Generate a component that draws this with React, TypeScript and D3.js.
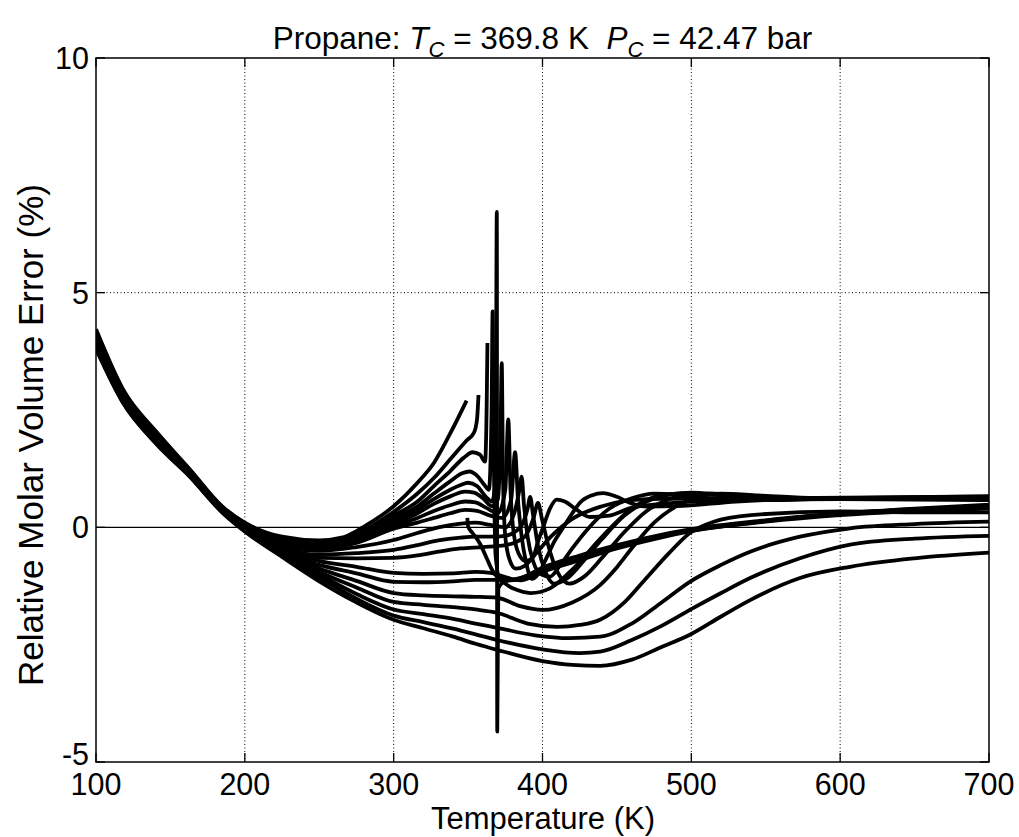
import React from "react";
import * as d3 from "d3";

type P = [number, number];

const X_TICKS = [100, 200, 300, 400, 500, 600, 700];
const Y_TICKS = [-5, 0, 5, 10];
const X_GRID = [200, 300, 400, 500, 600];
const Y_GRID = [5];

const U1: P[] = [[100,4.22],[118,2.95],[141,2.02],[163,1.24],[185,0.44],[200,0.10],[225,-0.20],[250,-0.28],[265,-0.22],[275,-0.08],[282,0.05],[300,0.45],[316,0.95],[327,1.37],[338,2.0],[349,2.7]];
const U2: P[] = [[100,4.20],[118,2.93],[141,2.00],[163,1.22],[185,0.43],[200,0.09],[225,-0.23],[250,-0.31],[275,-0.14],[300,0.33],[316,0.72],[327,1.05],[338,1.45],[349,1.85],[354,2.02],[356,2.3],[357,2.82]];
const U3: P[] = [[100,4.17],[118,2.91],[141,1.98],[163,1.21],[185,0.42],[200,0.08],[225,-0.25],[250,-0.33],[275,-0.18],[300,0.25],[316,0.55],[327,0.88],[338,1.2],[347,1.48],[353,1.6],[358,1.55],[361.4,1.4],[362.5,2.6],[363,3.93]];
const H1: P[] = [[100,4.14],[118,2.89],[141,1.97],[163,1.20],[185,0.42],[200,0.07],[225,-0.28],[250,-0.35],[275,-0.21],[300,0.18],[316,0.45],[327,0.72],[338,0.98],[346,1.15],[351,1.19],[356,1.1],[361,0.9],[364,0.8],[365.8,2.5],[366.5,4.6],[367.3,1.5],[368.5,-0.6],[371,-1.05],[380,-1.12],[390,-1.03],[400,-0.88],[425,-0.62],[450,-0.4],[475,-0.21],[500,-0.06],[550,0.14],[600,0.29],[650,0.39],[700,0.46]];
const C0: P[] = [[100,4.11],[118,2.87],[141,1.95],[163,1.19],[185,0.41],[200,0.05],[225,-0.30],[250,-0.37],[275,-0.24],[300,0.12],[316,0.38],[327,0.6],[338,0.8],[345,0.9],[350,0.95],[356,0.88],[362,0.65],[366,0.55],[368.5,1.0],[369.3,6.72],[369.6,-4.35],[370.3,-1.3],[375,-1.15],[385,-1.1],[400,-0.9],[425,-0.63],[450,-0.41],[475,-0.22],[500,-0.07],[550,0.13],[600,0.29],[650,0.4],[700,0.48]];
const H3: P[] = [[100,4.08],[118,2.85],[141,1.94],[163,1.19],[185,0.40],[200,0.04],[225,-0.33],[250,-0.39],[275,-0.27],[300,0.07],[316,0.3],[327,0.5],[338,0.66],[348,0.76],[354,0.74],[360,0.62],[366,0.45],[370,0.6],[371.8,2.0],[372.6,3.5],[373.5,1.0],[375,-0.2],[378,-0.7],[382,-0.88],[388,-0.82],[395,-0.58],[405,-0.22],[420,0.18],[440,0.45],[470,0.6],[520,0.62],[600,0.62],[700,0.62]];
const H4: P[] = [[100,4.05],[118,2.83],[141,1.92],[163,1.18],[185,0.39],[200,0.03],[225,-0.35],[250,-0.41],[275,-0.30],[300,0.02],[316,0.2],[327,0.35],[338,0.47],[348,0.55],[355,0.53],[362,0.42],[370,0.3],[375,0.8],[377,2.3],[378.5,0.8],[381,-0.2],[385,-0.62],[389,-0.72],[393.7,-0.63],[397,-0.3],[400.4,0.0],[405,0.4],[409.6,0.59],[415,0.55],[422,0.4],[432,0.22],[445,0.25],[459,0.41],[480,0.5],[520,0.57],[600,0.6],[700,0.6]];
const H5: P[] = [[100,4.02],[118,2.81],[141,1.91],[163,1.17],[185,0.39],[200,0.02],[225,-0.38],[250,-0.43],[275,-0.33],[300,-0.03],[316,0.1],[327,0.2],[338,0.3],[348,0.37],[356,0.35],[365,0.25],[373,0.2],[379,0.6],[381.6,1.6],[383.5,0.6],[386,-0.2],[389,-0.75],[393,-1.1],[397,-1.0],[403,-0.63],[408,-0.3],[414,0.0],[420,0.3],[425,0.52],[433,0.68],[440.7,0.73],[450,0.65],[459,0.52],[470,0.44],[490,0.45],[530,0.55],[600,0.62],[700,0.64]];
const V1: P[] = [[349.5,0.2],[350,0.02],[353,-0.12],[358,-0.35],[362,-0.62],[366,-0.9],[370,-1.06],[376,-1.12],[385,-1.08],[400,-0.86],[425,-0.6],[450,-0.38],[475,-0.19],[500,-0.04],[550,0.15],[600,0.3],[650,0.38],[700,0.44]];
const S4: P[] = [[100,3.99],[118,2.79],[141,1.89],[163,1.16],[185,0.38],[200,0.01],[225,-0.42],[250,-0.5],[275,-0.42],[300,-0.27],[316,-0.12],[330,0.0],[345,0.08],[355,0.1],[365,0.05],[375,0.0],[381,0.3],[384.5,0.8],[386,1.08],[387.5,0.5],[390,-0.2],[394,-0.75],[399,-1.0],[405,-1.05],[412,-0.8],[420,-0.45],[430,-0.05],[445,0.4],[460,0.62],[475,0.72],[490,0.7],[510,0.6],[550,0.58],[600,0.62],[700,0.66]];
const S5: P[] = [[100,3.96],[118,2.77],[141,1.87],[163,1.14],[185,0.37],[200,-0.01],[225,-0.45],[250,-0.58],[275,-0.55],[300,-0.48],[316,-0.38],[330,-0.28],[345,-0.22],[355,-0.2],[365,-0.2],[375,-0.18],[385,0.0],[390,0.4],[391.7,0.65],[393.5,0.3],[397,-0.4],[402,-0.95],[408,-1.2],[416,-1.1],[428,-0.7],[440,-0.25],[455,0.25],[470,0.55],[485,0.7],[500,0.74],[520,0.7],[560,0.62],[700,0.63]];
const S6: P[] = [[100,3.94],[118,2.75],[141,1.85],[163,1.13],[185,0.36],[200,-0.02],[225,-0.48],[250,-0.65],[275,-0.66],[300,-0.65],[316,-0.6],[330,-0.52],[345,-0.45],[360,-0.42],[375,-0.38],[388,-0.2],[394,0.2],[397,0.52],[399.5,0.2],[404,-0.4],[410,-0.95],[418,-1.2],[428,-1.05],[440,-0.65],[455,-0.1],[470,0.35],[485,0.6],[500,0.7],[515,0.72],[540,0.66],[600,0.6],[700,0.62]];
const L1: P[] = [[100,3.92],[118,2.74],[141,1.84],[163,1.13],[185,0.35],[200,-0.03],[225,-0.50],[250,-0.72],[275,-0.84],[300,-0.97],[320,-0.99],[340,-0.98],[355,-0.95],[365,-0.97],[375,-1.06],[385,-1.13],[400,-0.95],[425,-0.7],[450,-0.45],[475,-0.25],[500,-0.08],[550,0.12],[600,0.26],[700,0.4]];
const L2: P[] = [[100,3.90],[118,2.72],[141,1.82],[163,1.12],[185,0.34],[200,-0.04],[225,-0.53],[250,-0.8],[275,-0.98],[300,-1.16],[320,-1.17],[340,-1.15],[355,-1.12],[369.5,-1.12],[380,-1.3],[392,-1.4],[405,-1.3],[420,-0.9],[440,-0.2],[460,0.4],[480,0.68],[500,0.72],[520,0.68],[560,0.62],[700,0.66]];
const L3: P[] = [[100,3.88],[118,2.71],[141,1.81],[163,1.11],[185,0.33],[200,-0.06],[225,-0.55],[250,-0.88],[275,-1.14],[300,-1.40],[320,-1.45],[340,-1.47],[355,-1.48],[369.5,-1.50],[385,-1.68],[400,-1.76],[420,-1.6],[438.7,-1.23],[450,-0.85],[460.9,-0.41],[475,0.1],[490,0.45],[505,0.65],[520,0.72],[545,0.68],[600,0.6],[700,0.58]];
const L4: P[] = [[100,3.86],[118,2.70],[141,1.79],[163,1.10],[185,0.33],[200,-0.07],[225,-0.57],[250,-0.95],[275,-1.28],[300,-1.59],[320,-1.65],[340,-1.7],[355,-1.75],[369.5,-1.82],[390,-2.05],[410,-2.12],[425,-2.08],[438.7,-1.97],[455,-1.6],[467.6,-1.16],[485,-0.55],[499,-0.12],[515,0.12],[540,0.26],[600,0.34],[650,0.32],[700,0.32]];
const L5: P[] = [[100,3.84],[118,2.68],[141,1.78],[163,1.09],[185,0.32],[200,-0.07],[225,-0.60],[250,-1.01],[275,-1.42],[300,-1.75],[320,-1.85],[340,-1.95],[355,-2.05],[369.5,-2.14],[395,-2.3],[418,-2.36],[438.7,-2.33],[460,-2.05],[480,-1.6],[499,-1.16],[520,-0.8],[539.5,-0.52],[573,-0.2],[606.7,-0.02],[650,0.07],[700,0.12]];
const L6: P[] = [[100,3.82],[118,2.67],[141,1.77],[163,1.09],[185,0.32],[200,-0.08],[225,-0.61],[250,-1.07],[275,-1.52],[300,-1.88],[320,-2.02],[340,-2.16],[355,-2.28],[369.5,-2.40],[400,-2.6],[425,-2.68],[438.7,-2.65],[460,-2.4],[480,-2.1],[499,-1.76],[520,-1.4],[539.5,-1.08],[573,-0.66],[606.7,-0.37],[650,-0.24],[700,-0.18]];
const L7: P[] = [[100,3.80],[118,2.66],[141,1.76],[163,1.08],[185,0.31],[200,-0.09],[225,-0.63],[250,-1.15],[275,-1.6],[300,-1.97],[320,-2.15],[340,-2.33],[355,-2.48],[369.5,-2.61],[400,-2.85],[420,-2.93],[438.7,-2.95],[460,-2.82],[480,-2.55],[499,-2.29],[520,-1.9],[539.5,-1.55],[573,-1.08],[606.7,-0.84],[650,-0.66],[700,-0.54]];

const SERIES: P[][] = [U1, U2, U3, H1, C0, H3, H4, H5, V1, S4, S5, S6, L1, L2, L3, L4, L5, L6, L7];

const W = 1019, H = 837;
const M = { left: 96, right: 989, top: 58, bottom: 762 };
const FONT = "'Liberation Sans', Arial, Helvetica, sans-serif";

export default function App() {
  const x = d3.scaleLinear().domain([100, 700]).range([M.left, M.right]);
  const y = d3.scaleLinear().domain([-5, 10]).range([M.bottom, M.top]);
  const line = d3.line<P>().x(d => x(d[0])).y(d => y(d[1])).curve(d3.curveMonotoneX);
  const tick = 9;

  return (
    <svg width={W} height={H} style={{ position: "absolute", left: 0, top: 0, background: "#fff" }} fontFamily={FONT}>
      <rect x={0} y={0} width={W} height={H} fill="#fff" />
      <defs>
        <clipPath id="plot">
          <rect x={M.left} y={M.top} width={M.right - M.left} height={M.bottom - M.top} />
        </clipPath>
      </defs>
      {X_GRID.map(v => (
        <line key={"gx" + v} x1={x(v)} x2={x(v)} y1={M.top} y2={M.bottom} stroke="#000" strokeWidth={1} strokeDasharray="1,2.5" />
      ))}
      {Y_GRID.map(v => (
        <line key={"gy" + v} x1={M.left} x2={M.right} y1={y(v)} y2={y(v)} stroke="#000" strokeWidth={1} strokeDasharray="1,2.5" />
      ))}
      <line x1={M.left} x2={M.right} y1={y(0)} y2={y(0)} stroke="#000" strokeWidth={1.3} />
      <g clipPath="url(#plot)">
        {SERIES.map((s, i) => (
          <path key={i} d={line(s) || ""} fill="none" stroke="#000" strokeWidth={3.8} strokeLinejoin="round" strokeLinecap="butt" />
        ))}
      </g>
      <rect x={M.left} y={M.top} width={M.right - M.left} height={M.bottom - M.top} fill="none" stroke="#000" strokeWidth={1.5} />
      {X_TICKS.map(v => (
        <g key={"xt" + v}>
          <line x1={x(v)} x2={x(v)} y1={M.bottom} y2={M.bottom - tick} stroke="#000" strokeWidth={1.3} />
          <line x1={x(v)} x2={x(v)} y1={M.top} y2={M.top + tick} stroke="#000" strokeWidth={1.3} />
          <text x={x(v)} y={795} textAnchor="middle" fontSize={30.5}>{v}</text>
        </g>
      ))}
      {Y_TICKS.map(v => (
        <g key={"yt" + v}>
          <line x1={M.left} x2={M.left + tick} y1={y(v)} y2={y(v)} stroke="#000" strokeWidth={1.3} />
          <line x1={M.right} x2={M.right - tick} y1={y(v)} y2={y(v)} stroke="#000" strokeWidth={1.3} />
          <text x={89} y={Math.min(y(v) + 11, 765)} textAnchor="end" fontSize={30.5}>{v}</text>
        </g>
      ))}
      <text x={(M.left + M.right) / 2} y={49} textAnchor="middle" fontSize={31.5} style={{ whiteSpace: "pre" }}>
        <tspan>Propane: </tspan>
        <tspan fontStyle="italic">T</tspan>
        <tspan fontStyle="italic" fontSize={22} dy={8}>C</tspan>
        <tspan dy={-8}>{" = 369.8 K  "}</tspan>
        <tspan fontStyle="italic">P</tspan>
        <tspan fontStyle="italic" fontSize={22} dy={8}>C</tspan>
        <tspan dy={-8}>{" = 42.47 bar"}</tspan>
      </text>
      <text x={543} y={829} textAnchor="middle" fontSize={31}>Temperature (K)</text>
      <text transform={`translate(43,435) rotate(-90)`} textAnchor="middle" fontSize={35}>Relative Molar Volume Error (%)</text>
    </svg>
  );
}
